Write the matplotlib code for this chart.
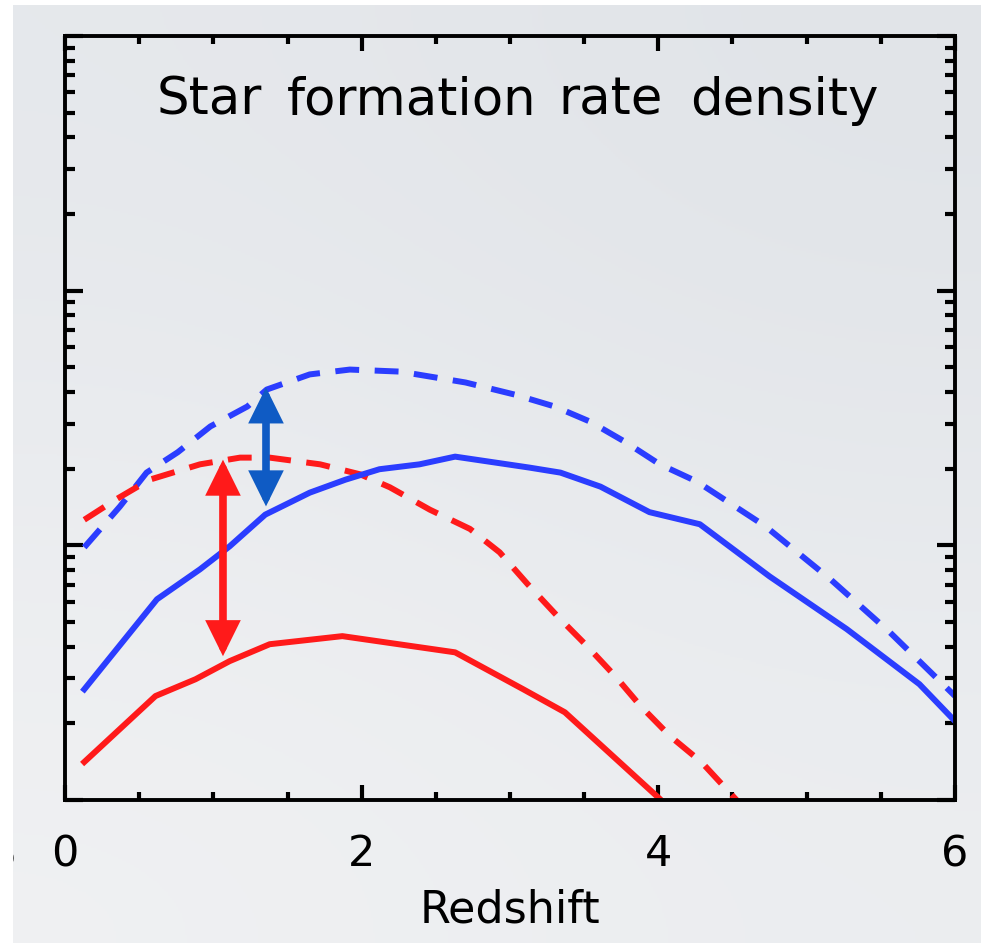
import matplotlib
matplotlib.use("Agg")
import matplotlib.pyplot as plt
import numpy as np
from matplotlib.patches import Rectangle
from matplotlib.ticker import MultipleLocator, LogLocator, NullFormatter

plt.rcParams.update({
    "font.family": "DejaVu Sans",
    "figure.facecolor": "white",
})

BLUE = "#2b3dff"
BLUE_ARROW = "#0f5bc4"
RED = "#ff1a1a"

# ── data (redshift, SFR density, arbitrary log units) ──
blue_dash_z = [0.13, 0.37, 0.55, 0.76, 0.98, 1.23, 1.36, 1.65, 1.92, 2.26, 2.70,
               3.03, 3.30, 3.54, 3.78, 4.01, 4.26, 4.72, 5.16, 5.56, 6.00]
blue_dash_sfr = [0.00982, 0.0142, 0.0193, 0.0232, 0.0293, 0.0351, 0.0409, 0.0469,
                 0.0490, 0.0481, 0.0436, 0.0391, 0.0351, 0.0306, 0.0254, 0.0208,
                 0.0178, 0.0119, 0.00736, 0.00456, 0.00256]

blue_z = [0.13, 0.62, 0.91, 1.11, 1.35, 1.65, 1.89, 2.12, 2.39, 2.63, 3.13, 3.34,
          3.61, 3.94, 4.28, 4.75, 5.27, 5.76, 6.00]
blue_sfr = [0.00272, 0.00614, 0.00805, 0.00991, 0.0132, 0.0161, 0.0181, 0.0199,
            0.0208, 0.0223, 0.0202, 0.0193, 0.0170, 0.0135, 0.0121, 0.00755,
            0.00469, 0.00285, 0.00204]

red_dash_z = [0.13, 0.34, 0.57, 0.91, 1.18, 1.38, 1.72, 1.99, 2.19, 2.46, 2.73,
              2.93, 3.12, 3.32, 3.52, 3.71, 3.88, 4.08, 4.29, 4.52, 4.60]
red_dash_sfr = [0.0126, 0.0151, 0.0181, 0.0208, 0.0221, 0.0221, 0.0208, 0.0190,
                0.0169, 0.0138, 0.0116, 0.00939, 0.00703, 0.00527, 0.00402,
                0.00306, 0.00234, 0.00178, 0.00141, 0.00101, 0.00090]

red_z = [0.13, 0.61, 0.88, 1.11, 1.38, 1.87, 2.63, 3.09, 3.37, 4.01, 4.08]
red_sfr = [0.00141, 0.00256, 0.00298, 0.00351, 0.00409, 0.00440, 0.00380,
           0.00272, 0.00221, 0.00101, 0.00092]

# double arrows: (z, bottom, top)
red_arrow = (1.065, 0.00367, 0.0217)
blue_arrow = (1.355, 0.01422, 0.0417)

# title words with their anchor (px) and alignment, to keep the wide spacing
title_words = ["Star", "formation", "rate", "density"]
title_word_x = [262, 412, 611, 690]
title_word_ha = ["right", "center", "center", "left"]

W, H = 981, 943
fig = plt.figure(figsize=(W / 100, H / 100), dpi=100)

# slide-like gray gradient background
bg = fig.add_axes([0, 0, 1, 1], zorder=-10)
grad = np.array([[[0.900, 0.910, 0.925], [0.880, 0.893, 0.910]],
                 [[0.940, 0.944, 0.952], [0.925, 0.932, 0.942]]])
bg.imshow(grad, extent=[0, 1, 0, 1], aspect="auto", interpolation="bicubic")
bg.axis("off")

ax = fig.add_axes([65 / W, 1 - 800 / H, 890 / W, 764 / H])
ax.set_facecolor("none")
ax.set_yscale("log")

LW = 4.3
ax.plot(blue_dash_z, blue_dash_sfr, color=BLUE, lw=LW, dashes=(4.0, 2.6))
ax.plot(red_dash_z, red_dash_sfr, color=RED, lw=LW, dashes=(4.0, 2.6))
ax.plot(blue_z, blue_sfr, color=BLUE, lw=LW, solid_joinstyle="round")
ax.plot(red_z, red_sfr, color=RED, lw=LW, solid_joinstyle="round")

for (z, lo, hi), col in [(red_arrow, RED), (blue_arrow, BLUE_ARROW)]:
    ax.annotate("", xy=(z, hi), xytext=(z, lo),
                arrowprops=dict(arrowstyle="<|-|>,head_length=0.85,head_width=0.42",
                                mutation_scale=20, lw=5.5, color=col,
                                shrinkA=0, shrinkB=0, joinstyle="miter"))

ax.set_xlim(0, 6)
ax.set_ylim(1e-3, 1)

ax.set_xticks([0, 2, 4, 6])
ax.xaxis.set_minor_locator(MultipleLocator(0.5))
ax.yaxis.set_major_locator(LogLocator(base=10))
ax.yaxis.set_minor_locator(LogLocator(base=10, subs=np.arange(2, 10)))
ax.yaxis.set_major_formatter(NullFormatter())
ax.yaxis.set_minor_formatter(NullFormatter())

ax.tick_params(axis="both", which="both", direction="in", top=True, right=True,
               width=3.0, color="black")
ax.tick_params(axis="x", which="major", length=11, labelsize=31, pad=24)
ax.tick_params(axis="x", which="minor", length=6)
ax.tick_params(axis="y", which="major", length=13)
ax.tick_params(axis="y", which="minor", length=7)
for s in ax.spines.values():
    s.set_linewidth(2.8)

ax.set_xlabel("Redshift", fontsize=32)
ax.xaxis.set_label_coords(0.5, -0.116)

for word, px, ha in zip(title_words, title_word_x, title_word_ha):
    ax.text((px - 65) / 890, 0.915, word, transform=ax.transAxes,
            ha=ha, va="center", fontsize=37)

# partially hidden label at the left edge of the slide
fig.text(17 / W, 1 - 855 / H, "5", fontsize=31, ha="right", va="center")
fig.patches.append(Rectangle((0, 0), 13 / W, 1, transform=fig.transFigure,
                             facecolor="white", edgecolor="none", zorder=10))
fig.patches.append(Rectangle((0, 1 - 5 / H), 1, 5 / H, transform=fig.transFigure,
                             facecolor="white", edgecolor="none", zorder=10))

fig.savefig("out.png", dpi=100)
